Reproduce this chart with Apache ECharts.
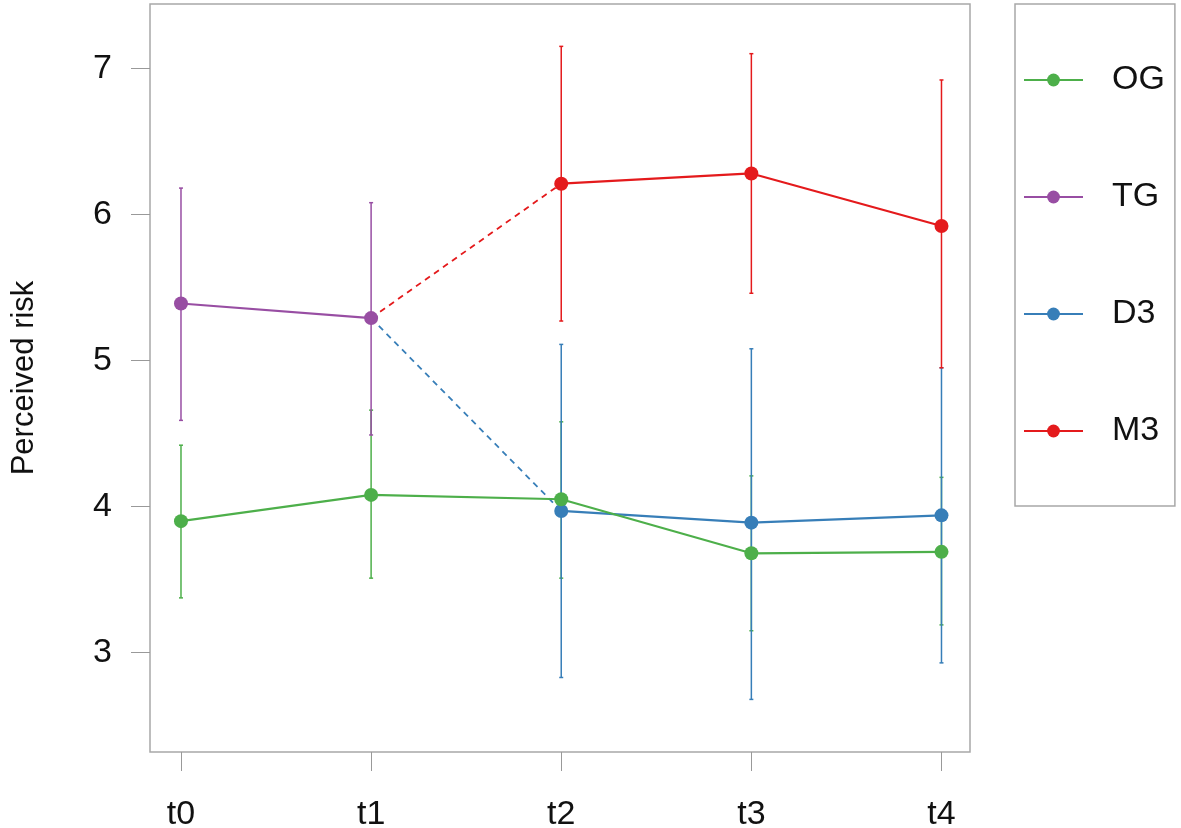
<!DOCTYPE html>
<html lang="en">
  <head>
    <meta charset="UTF-8" />
    <title>Perceived risk</title>
    <script src="https://cdn.jsdelivr.net/npm/echarts@6/dist/echarts.min.js"></script>
  </head>
  <body style="margin: 0; background: #fff">
    <div id="main" style="width: 1181px; height: 828px"></div>
    <script type="text/javascript">
      // time points and values
      const timeLabels = ["t0", "t1", "t2", "t3", "t4"];
      const yTicks = [3, 4, 5, 6, 7];

      const ogTimes = [0, 1, 2, 3, 4];
      const ogMean = [3.9, 4.08, 4.05, 3.68, 3.69];
      const ogLow = [3.375, 3.51, 3.51, 3.15, 3.19];
      const ogHigh = [4.42, 4.66, 4.58, 4.21, 4.2];

      const tgTimes = [0, 1];
      const tgMean = [5.39, 5.29];
      const tgLow = [4.59, 4.49];
      const tgHigh = [6.18, 6.08];

      const d3Times = [2, 3, 4];
      const d3Mean = [3.97, 3.89, 3.94];
      const d3Low = [2.83, 2.68, 2.93];
      const d3High = [5.11, 5.08, 4.95];

      const m3Times = [2, 3, 4];
      const m3Mean = [6.21, 6.28, 5.92];
      const m3Low = [5.27, 5.46, 4.95];
      const m3High = [7.15, 7.1, 6.92];

      const colors = {
        OG: "#4DAF4A",
        TG: "#984EA3",
        D3: "#377EB8",
        M3: "#E41A1C",
      };
      const font = "'Liberation Sans', Arial, sans-serif";

      function pairs(times, vals) {
        return times.map((t, i) => [t, vals[i]]);
      }

      function errorSeries(name, times, low, high) {
        return {
          name: name + " err",
          type: "custom",
          z: 1,
          data: times.map((t, i) => [t, low[i], high[i]]),
          renderItem: (params, api) => {
            const lo = api.coord([api.value(0), api.value(1)]);
            const hi = api.coord([api.value(0), api.value(2)]);
            const cap = 2;
            const style = { stroke: colors[name], lineWidth: 1.5 };
            return {
              type: "group",
              children: [
                { type: "line", shape: { x1: lo[0], y1: lo[1], x2: hi[0], y2: hi[1] }, style },
                { type: "line", shape: { x1: lo[0] - cap, y1: lo[1], x2: lo[0] + cap, y2: lo[1] }, style },
                { type: "line", shape: { x1: hi[0] - cap, y1: hi[1], x2: hi[0] + cap, y2: hi[1] }, style },
              ],
            };
          },
        };
      }

      function meanSeries(name, times, vals) {
        return {
          name: name,
          type: "line",
          z: 3,
          data: pairs(times, vals),
          symbol: "circle",
          symbolSize: 14,
          color: colors[name],
          lineStyle: { width: 2.2, color: colors[name] },
          itemStyle: { color: colors[name] },
        };
      }

      // dashed link from the TG t1 point to the first point of D3 / M3
      function linkSeries(name, toTime, toVal) {
        return {
          name: name + " link",
          type: "line",
          z: 2,
          data: [
            [tgTimes[1], tgMean[1]],
            [toTime, toVal],
          ],
          symbol: "none",
          lineStyle: { width: 1.8, type: [6, 5], color: colors[name] },
        };
      }

      let options = {
        animation: false,
        grid: {
          left: 150,
          top: 4,
          right: 211,
          bottom: 76,
          outerBoundsMode: "none",
          containLabel: false,
          show: true,
          borderColor: "#a8a8a8",
          borderWidth: 1.5,
        },
        xAxis: {
          type: "value",
          min: -0.163,
          max: 4.15,
          splitLine: { show: false },
          axisLine: { show: false, onZero: false },
          axisTick: { show: true, length: 19, customValues: [0, 1, 2, 3, 4], lineStyle: { color: "#999" } },
          axisLabel: {
            customValues: [0, 1, 2, 3, 4],
            formatter: (v) => timeLabels[Math.round(v)],
            margin: 46,
            fontSize: 34,
            fontFamily: font,
            color: "#111",
          },
        },
        yAxis: {
          type: "value",
          min: 2.32,
          max: 7.44,
          name: "Perceived risk",
          nameLocation: "middle",
          nameRotate: 90,
          nameGap: 110,
          nameTextStyle: { fontSize: 31, fontFamily: font, color: "#111" },
          splitLine: { show: false },
          axisLine: { show: false, onZero: false },
          axisTick: { show: true, length: 19, customValues: yTicks, lineStyle: { color: "#999" } },
          axisLabel: {
            customValues: yTicks,
            margin: 38,
            fontSize: 34,
            fontFamily: font,
            color: "#111",
          },
        },
        legend: {
          data: ["OG", "TG", "D3", "M3"],
          orient: "vertical",
          left: 1015,
          top: 4,
          padding: [59, 10, 58, 8],
          itemGap: 83,
          itemWidth: 59,
          itemHeight: 16,
          borderColor: "#a8a8a8",
          borderWidth: 1.5,
          textStyle: { fontSize: 34, fontFamily: font, color: "#111", padding: [0, 0, 0, 24] },
        },
        series: [
          errorSeries("OG", ogTimes, ogLow, ogHigh),
          errorSeries("TG", tgTimes, tgLow, tgHigh),
          errorSeries("D3", d3Times, d3Low, d3High),
          errorSeries("M3", m3Times, m3Low, m3High),
          linkSeries("M3", m3Times[0], m3Mean[0]),
          linkSeries("D3", d3Times[0], d3Mean[0]),
          meanSeries("TG", tgTimes, tgMean),
          meanSeries("M3", m3Times, m3Mean),
          meanSeries("D3", d3Times, d3Mean),
          meanSeries("OG", ogTimes, ogMean),
        ],
      };

      let myChart = echarts.init(document.getElementById("main"));
      myChart.setOption(options);
    </script>
  </body>
</html>
